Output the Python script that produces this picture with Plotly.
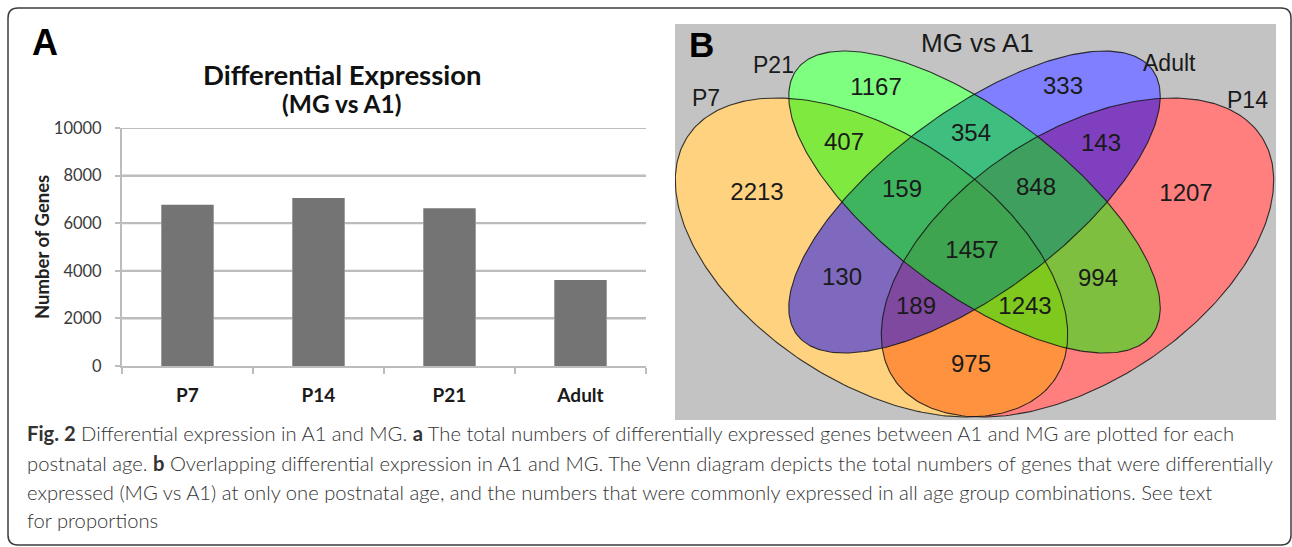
import numpy as np
import plotly.graph_objects as go

W, H = 1292, 547

# ---- panel A: differentially expressed genes per age ----
ages = ["P7", "P14", "P21", "Adult"]
de_genes = [6773, 7056, 6629, 3613]
y_ticks = [0, 2000, 4000, 6000, 8000, 10000]

# ---- panel B: Venn region counts ----
venn_sets = ["P7", "P21", "Adult", "P14"]
venn_regions = ["P7", "P21", "Adult", "P14",
                "P7&P21", "P21&Adult", "Adult&P14",
                "P7&P21&Adult", "P21&Adult&P14", "P7&P21&Adult&P14",
                "P7&Adult", "P21&P14", "P7&Adult&P14", "P7&P21&P14", "P7&P14"]
venn_counts = [2213, 1167, 333, 1207,
               407, 354, 143,
               159, 848, 1457,
               130, 994, 189, 1243, 975]

caption_lines = [
    "<b>Fig. 2</b> Differential expression in A1 and MG. <b>a</b> The total numbers of differentially expressed genes between A1 and MG are plotted for each",
    "postnatal age. <b>b</b> Overlapping differential expression in A1 and MG. The Venn diagram depicts the total numbers of genes that were differentially",
    "expressed (MG vs A1) at only one postnatal age, and the numbers that were commonly expressed in all age group combinations. See text",
    "for proportions",
]


def px(x):
    return x / W


def py(y):
    return 1 - y / H


# ---- Venn geometry (pixel space of the right panel) ----
PANEL = dict(x0=675, x1=1276, y0=24, y1=420)
SX = 1.23  # horizontal stretch of the ellipse layout
ELLIPSES = {
    "P7":    dict(cx=871.5,  cy=257.5, a=194.3, b=114.6, tilt=1,  rgb=(255, 165, 0)),
    "P21":   dict(cx=974.5,  cy=202.0, a=196.9, b=82.7,  tilt=1,  rgb=(0, 255, 0)),
    "Adult": dict(cx=974.5,  cy=202.0, a=196.9, b=82.7,  tilt=-1, rgb=(0, 0, 255)),
    "P14":   dict(cx=1077.5, cy=257.5, a=194.3, b=114.6, tilt=-1, rgb=(255, 0, 0)),
}
DRAW_ORDER = ["P14", "P7", "Adult", "P21"]

LABEL_POS = {
    "P7": (757, 194), "P21": (876, 89), "Adult": (1063, 88), "P14": (1186, 195),
    "P7&P21": (844, 144), "P21&Adult": (971, 135), "Adult&P14": (1101, 145),
    "P7&P21&Adult": (902, 191), "P21&Adult&P14": (1036, 189),
    "P7&P21&Adult&P14": (972, 252),
    "P7&Adult": (842, 279), "P21&P14": (1098, 280), "P7&Adult&P14": (916, 308),
    "P7&P21&P14": (1025, 308), "P7&P14": (971, 366),
}
SET_LABEL_POS = {"P7": (706, 98), "P21": (773, 65), "Adult": (1169, 63), "P14": (1247, 100)}

GRID = "#bcbcbc"
BAR_WIDTH = 0.4


def ellipse_xy(g, n=300):
    t = np.linspace(0, 2 * np.pi, n)
    u = g["a"] * np.cos(t)
    v = g["b"] * np.sin(t)
    r = np.sqrt(0.5)
    xu = (u - g["tilt"] * v) * r
    yu = (g["tilt"] * u + v) * r
    return g["cx"] + SX * xu, g["cy"] + yu


fig = go.Figure()

# bars
fig.add_trace(go.Bar(x=ages, y=de_genes, marker=dict(color="#747474", line=dict(width=0)),
                     width=BAR_WIDTH, xaxis="x", yaxis="y", showlegend=False,
                     hoverinfo="skip"))

# grey backdrop of the Venn panel
fig.add_trace(go.Scatter(
    x=[PANEL["x0"], PANEL["x1"], PANEL["x1"], PANEL["x0"], PANEL["x0"]],
    y=[PANEL["y0"], PANEL["y0"], PANEL["y1"], PANEL["y1"], PANEL["y0"]],
    mode="lines", fill="toself", fillcolor="#c3c3c3", line=dict(width=0),
    xaxis="x2", yaxis="y2", showlegend=False, hoverinfo="skip"))

# white base under the ellipses
for name in DRAW_ORDER:
    ex, ey = ellipse_xy(ELLIPSES[name])
    fig.add_trace(go.Scatter(x=ex, y=ey, mode="lines", fill="toself", fillcolor="white",
                             line=dict(width=0), xaxis="x2", yaxis="y2",
                             showlegend=False, hoverinfo="skip"))
# translucent colour layers
for name in DRAW_ORDER:
    g = ELLIPSES[name]
    ex, ey = ellipse_xy(g)
    r, gg, b = g["rgb"]
    fig.add_trace(go.Scatter(x=ex, y=ey, mode="lines", fill="toself",
                             fillcolor=f"rgba({r},{gg},{b},0.5)",
                             line=dict(width=0), xaxis="x2", yaxis="y2",
                             showlegend=False, hoverinfo="skip"))
# outlines
for name in DRAW_ORDER:
    ex, ey = ellipse_xy(ELLIPSES[name])
    fig.add_trace(go.Scatter(x=ex, y=ey, mode="lines",
                             line=dict(width=1.1, color="rgba(20,20,20,0.85)"),
                             xaxis="x2", yaxis="y2", showlegend=False, hoverinfo="skip"))

# region counts
fig.add_trace(go.Scatter(
    x=[LABEL_POS[k][0] for k in venn_regions],
    y=[LABEL_POS[k][1] for k in venn_regions],
    text=[str(c) for c in venn_counts], mode="text", textposition="middle center",
    textfont=dict(family="Liberation Sans, Arial, sans-serif", size=24, color="#1a1a1a"),
    xaxis="x2", yaxis="y2", showlegend=False, hoverinfo="skip", cliponaxis=False))

annotations = []


def add_text(text, x, y, size, family, color="#000", weight="normal", xanchor="center",
             angle=0, yanchor="middle"):
    annotations.append(dict(
        text=text, x=px(x), y=py(y), xref="paper", yref="paper", showarrow=False,
        xanchor=xanchor, yanchor=yanchor, textangle=angle, align="left",
        font=dict(size=size, family=family, color=color, weight=weight)))


ARIAL = "Liberation Sans, Arial, sans-serif"
CALI = "Lato, Carlito, Calibri, sans-serif"

# panel A labels
add_text("A", 45, 42, 36, ARIAL, weight="bold")
add_text("Differential Expression", 342, 74, 27.5, CALI, weight="bold", color="#111")
add_text("(MG vs A1)", 342, 104, 24.5, CALI, weight="bold", color="#111")
add_text("Number of Genes", 42, 247, 18.5, CALI, weight="bold", color="#222", angle=-90)

# panel B labels
add_text("B", 701, 45, 35, ARIAL, weight="bold")
add_text("MG vs A1", 977, 43, 26, ARIAL, color="#1a1a1a")
for s in venn_sets:
    xx, yy = SET_LABEL_POS[s]
    add_text(s, xx, yy, 23, ARIAL, color="#1a1a1a")

# caption
cap_y = [433, 463, 492, 520]
for line, yy in zip(caption_lines, cap_y):
    add_text(line, 25, yy, 20.2, "Lato, sans-serif", color="#333", xanchor="left", weight=300)

# outer frame
x0, y0, x1, y1, rr = 8, 8, 1291, 545, 10
frame_path = (f"M {px(x0)},{py(y0 + rr)} Q {px(x0)},{py(y0)} {px(x0 + rr)},{py(y0)} "
              f"L {px(x1 - rr)},{py(y0)} Q {px(x1)},{py(y0)} {px(x1)},{py(y0 + rr)} "
              f"L {px(x1)},{py(y1 - rr)} Q {px(x1)},{py(y1)} {px(x1 - rr)},{py(y1)} "
              f"L {px(x0 + rr)},{py(y1)} Q {px(x0)},{py(y1)} {px(x0)},{py(y1 - rr)} Z")
shapes = [
    dict(type="path", path=frame_path, xref="paper", yref="paper",
         fillcolor="rgba(0,0,0,0)", line=dict(color="#3c3c3c", width=1.5), layer="above"),
]

# value gridlines, broken where a bar stands in front of them
n_cat = len(ages)
for v in y_ticks[1:]:
    cuts = [(i - BAR_WIDTH / 2, i + BAR_WIDTH / 2)
            for i, h in enumerate(de_genes) if h > v]
    start = -0.5
    for c0, c1 in cuts:
        shapes.append(dict(type="line", xref="x", yref="y", x0=start, x1=c0, y0=v, y1=v,
                           line=dict(color=GRID, width=2), layer="above"))
        start = c1
    shapes.append(dict(type="line", xref="x", yref="y", x0=start, x1=n_cat - 0.5,
                       y0=v, y1=v, line=dict(color=GRID, width=2), layer="above"))

fig.update_layout(
    width=W, height=H, margin=dict(l=0, r=0, t=0, b=0, pad=0, autoexpand=False),
    autosize=False,
    paper_bgcolor="white", plot_bgcolor="rgba(255,255,255,0)",
    annotations=annotations, shapes=shapes,
    xaxis=dict(domain=[px(122), px(646)], type="category", range=[-0.5, n_cat - 0.5],
               tickson="boundaries",
               ticks="outside", ticklen=6, tickcolor=GRID, tickwidth=2,
               showline=True, linecolor=GRID, linewidth=2, showgrid=False,
               tickfont=dict(family=CALI, size=19, color="#1a1a1a", weight="bold"),
               ticklabelstandoff=11, fixedrange=True, automargin=False),
    yaxis=dict(domain=[py(366), py(128)], range=[0, 10000], tickvals=y_ticks,
               tickformat="d", showgrid=True, gridcolor=GRID, gridwidth=2,
               showline=True, linecolor=GRID, linewidth=2,
               ticks="outside", ticklen=5, tickcolor=GRID, tickwidth=2,
               zeroline=False, tickfont=dict(family=CALI, size=16.5, color="#3a3a3a"),
               ticklabelstandoff=10, fixedrange=True, automargin=False),
    xaxis2=dict(domain=[px(PANEL["x0"]), px(PANEL["x1"])], range=[PANEL["x0"], PANEL["x1"]],
                visible=False, fixedrange=True, automargin=False),
    yaxis2=dict(domain=[py(PANEL["y1"]), py(PANEL["y0"])], range=[PANEL["y1"], PANEL["y0"]],
                visible=False, fixedrange=True, automargin=False),
)

fig.write_html("out.html")
